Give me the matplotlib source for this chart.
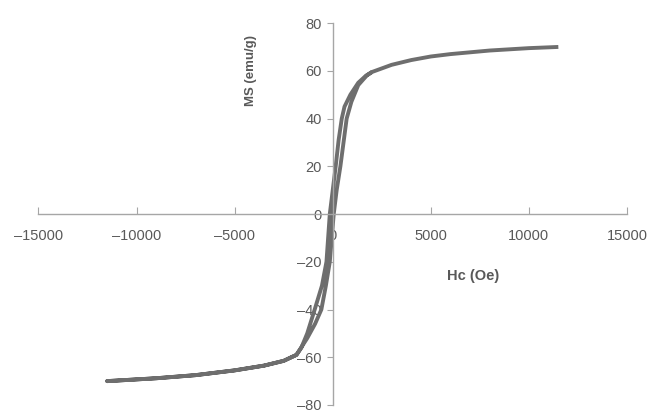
import matplotlib.pyplot as plt

# hysteresis loop
# descending branch (field from +max to -max)
h_down = [11500, 10000, 8000, 6000, 5000, 4000, 3000, 2500, 2000, 1700, 1300,
          900, 600, 460, 300, 150, 0, -150, -320, -550, -920, -1300, -1600,
          -1850, -2500, -3500, -5000, -7000, -9000, -11500]
m_down = [70, 69.5, 68.5, 67, 66, 64.5, 62.5, 61, 59.5, 58, 55,
          50, 45, 40, 31, 20, 10, 0, -20, -30, -40, -50, -56,
          -59, -61.5, -63.5, -65.5, -67.5, -68.8, -70]
# ascending branch (field from -max to +max)
h_up = [-11500, -9000, -7000, -5000, -3500, -2500, -1850, -1300, -900, -580,
        -350, -150, 50, 200, 390, 550, 710, 950, 1300, 1730, 2000]
m_up = [-70, -68.8, -67.5, -65.5, -63.5, -61.5, -59, -52, -46, -40,
        -30, -20, 0, 10, 20, 30, 40, 47, 54, 58, 59.5]

x_ticks = [-15000, -10000, -5000, 0, 5000, 10000, 15000]
y_ticks = [-80, -60, -40, -20, 0, 20, 40, 60, 80]

plt.rcParams['font.family'] = ['Liberation Sans', 'DejaVu Sans']
txt = '#595959'
axc = '#a6a6a6'

fig = plt.figure(figsize=(6.49, 4.12), dpi=100)
ax = fig.add_axes([0.0593, 0.017, 0.9068, 0.927])

ax.plot(h_down + h_up, m_down + m_up, color='#6e6e6e', lw=2.8,
        solid_joinstyle='round', solid_capstyle='butt')

ax.set_xlim(-15000, 15000)
ax.set_ylim(-80, 80)
ax.set_xticks(x_ticks)
ax.set_yticks(y_ticks)
ax.set_xticklabels([f'{v}'.replace('-', '\u2013') for v in x_ticks])
ax.set_yticklabels([f'{v}'.replace('-', '\u2013') for v in y_ticks])

ax.spines['left'].set_position(('data', 0))
ax.spines['bottom'].set_position(('data', 0))
ax.spines['right'].set_visible(False)
ax.spines['top'].set_visible(False)
for s in ['left', 'bottom']:
    ax.spines[s].set_color(axc)
    ax.spines[s].set_linewidth(1.0)

ax.tick_params(axis='x', direction='in', length=5, color=axc, labelsize=10.5,
               labelcolor=txt, pad=11)
ax.tick_params(axis='y', direction='out', length=4, color=axc, labelsize=10.5,
               labelcolor=txt, pad=4)

fig.text(251 / 649, 1 - 70 / 412, 'MS (emu/g)', rotation=90, ha='center',
         va='center', fontsize=9.5, fontweight='bold', color=txt)
fig.text(473 / 649, 1 - 276 / 412, 'Hc (Oe)', ha='center', va='center',
         fontsize=10.5, fontweight='bold', color=txt)

fig.savefig('out.png', dpi=100)
